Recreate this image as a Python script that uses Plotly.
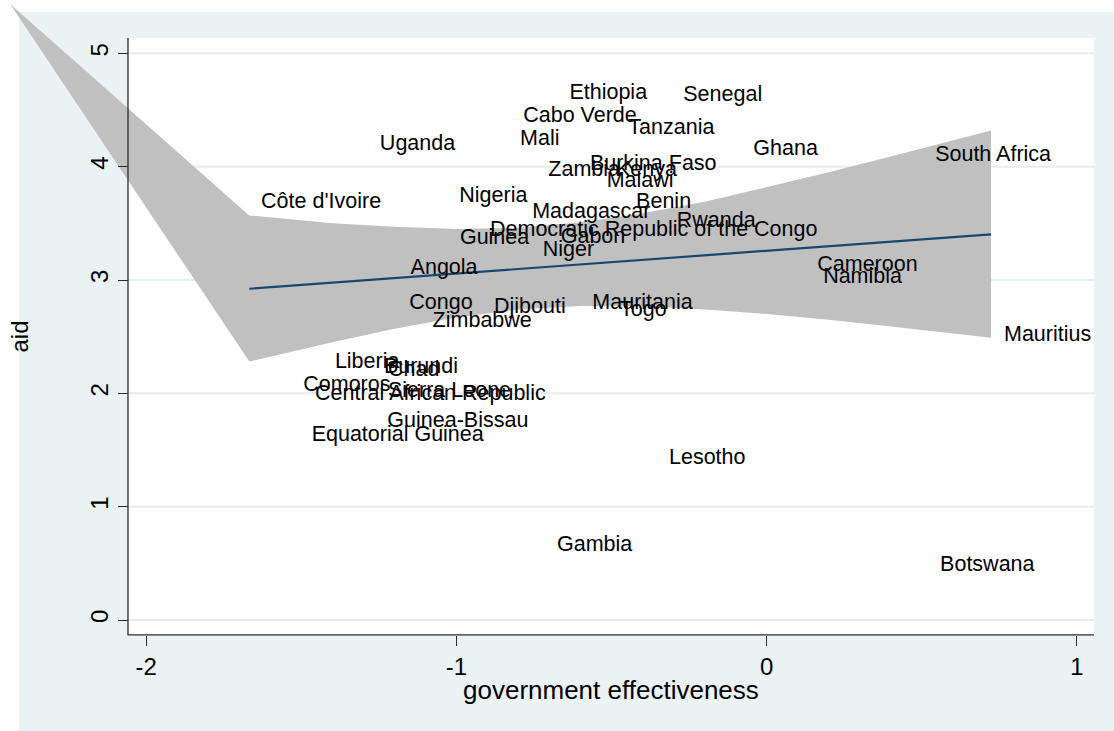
import plotly.graph_objects as go

# ---- data -------------------------------------------------------------
countries = [
    "Ethiopia", "Senegal", "Cabo Verde", "Tanzania", "Mali", "Ghana",
    "Burkina Faso", "Zambia", "Kenya", "Malawi", "Nigeria", "Benin",
    "Madagascar", "Rwanda", "Democratic Republic of the Congo", "Guinea",
    "Gabon", "Niger", "Côte d'Ivoire", "Uganda", "Angola", "Congo",
    "Zimbabwe", "Djibouti", "Mauritania", "Togo", "Cameroon", "Namibia",
    "South Africa", "Mauritius", "Liberia", "Burundi", "Chad", "Comoros",
    "Sierra Leone", "Central African Republic", "Guinea-Bissau",
    "Equatorial Guinea", "Lesotho", "Gambia", "Botswana",
]
gov_effectiveness = [
    -0.636, -0.269, -0.785, -0.446, -0.795, -0.043,
    -0.570, -0.704, -0.486, -0.516, -0.991, -0.421,
    -0.756, -0.290, -0.892, -0.989,
    -0.664, -0.722, -1.630, -1.247, -1.148, -1.152,
    -1.077, -0.879, -0.562, -0.473, 0.163, 0.182,
    0.543, 0.765, -1.392, -1.234, -1.221, -1.494,
    -1.221, -1.456, -1.223,
    -1.467, -0.315, -0.676, 0.559,
]
aid = [
    4.648, 4.626, 4.438, 4.332, 4.235, 4.148,
    4.017, 3.964, 3.962, 3.871, 3.737, 3.681,
    3.596, 3.516, 3.435, 3.362,
    3.372, 3.259, 3.682, 4.191, 3.103, 2.795,
    2.629, 2.753, 2.791, 2.733, 3.126, 3.022,
    4.097, 2.509, 2.274, 2.224, 2.197, 2.071,
    2.012, 1.990, 1.750,
    1.626, 1.421, 0.653, 0.481,
]

# linear fit and its confidence band
fit_x = [-1.668, 0.723]
fit_y = [2.923, 3.403]
ci_x = [-2.439, -1.668, -1.4, -1.2, -1.0, -0.8, -0.6, -0.4, -0.2, 0.0, 0.2, 0.4, 0.6, 0.723]
ci_upper = [5.435, 3.57, 3.50, 3.47, 3.45, 3.46, 3.51, 3.59, 3.69, 3.82, 3.95, 4.09, 4.23, 4.32]
ci_lower = [5.435, 2.28, 2.45, 2.57, 2.67, 2.74, 2.77, 2.77, 2.74, 2.70, 2.65, 2.59, 2.53, 2.49]

x_ticks = [-2, -1, 0, 1]
x_tick_labels = ["-2", "-1", "0", "1"]
y_ticks = [0, 1, 2, 3, 4, 5]
y_tick_labels = ["0", "1", "2", "3", "4", "5"]

# ---- layout constants -------------------------------------------------
W, H = 1114, 731
X_RANGE = [-2.4716, 1.1196]      # axis span across the whole canvas
Y_RANGE = [-0.9794, 5.4706]
FRAME_X = [-2.059, 1.055]        # inner plot region
FRAME_Y = [-0.132, 5.135]

FONT = "Liberation Sans, Arial, Helvetica, sans-serif"
BG_BLUE = "#eaf2f3"
GRID = "#e4edf0"
BAND = "#c0c0c0"
LINE = "#1a476f"
AXIS = "#2b2b2b"


def frac_x(v):
    return (v - X_RANGE[0]) / (X_RANGE[1] - X_RANGE[0])


def frac_y(v):
    return (v - Y_RANGE[0]) / (Y_RANGE[1] - Y_RANGE[0])


fig = go.Figure()

# horizontal grid lines across the plot region
gx, gy = [], []
for t in y_ticks:
    gx += [FRAME_X[0], FRAME_X[1], None]
    gy += [t, t, None]
fig.add_trace(go.Scatter(x=gx, y=gy, mode="lines",
                         line=dict(color=GRID, width=2), hoverinfo="skip"))

# confidence band
fig.add_trace(go.Scatter(
    x=ci_x + ci_x[::-1],
    y=ci_upper + ci_lower[::-1],
    mode="lines", fill="toself", fillcolor=BAND,
    line=dict(width=0, color=BAND), hoverinfo="skip"))

# fitted line
fig.add_trace(go.Scatter(x=fit_x, y=fit_y, mode="lines",
                         line=dict(color=LINE, width=2.2), hoverinfo="skip"))

# country labels
fig.add_trace(go.Scatter(
    x=gov_effectiveness, y=aid, text=countries, mode="text",
    textposition="middle right",
    textfont=dict(family=FONT, size=21.5, color="black"),
    cliponaxis=False, hoverinfo="skip"))

# axis lines (left and bottom)
fig.add_trace(go.Scatter(
    x=[FRAME_X[0], FRAME_X[0], FRAME_X[1]],
    y=[FRAME_Y[1], FRAME_Y[0], FRAME_Y[0]],
    mode="lines", line=dict(color=AXIS, width=1.3), hoverinfo="skip"))

shapes = [
    dict(type="rect", xref="paper", yref="paper",
         x0=19 / W, x1=1, y0=0, y1=1 - 12 / H,
         fillcolor=BG_BLUE, line=dict(width=0), layer="below"),
    dict(type="rect", xref="x", yref="y",
         x0=FRAME_X[0], x1=FRAME_X[1], y0=FRAME_Y[0], y1=FRAME_Y[1],
         fillcolor="white", line=dict(width=0), layer="below"),
]

mid_x = (frac_x(FRAME_X[0]) + frac_x(FRAME_X[1])) / 2
mid_y = (frac_y(FRAME_Y[0]) + frac_y(FRAME_Y[1])) / 2

fig.update_layout(
    width=W, height=H,
    margin=dict(l=0, r=0, t=0, b=0),
    paper_bgcolor="white",
    plot_bgcolor="rgba(0,0,0,0)",
    showlegend=False,
    shapes=shapes,
    xaxis=dict(
        domain=[0, 1], range=X_RANGE, anchor="free",
        position=frac_y(FRAME_Y[0]),
        tickmode="array", tickvals=x_ticks, ticktext=x_tick_labels,
        ticks="outside", ticklen=10, tickwidth=1.3, tickcolor=AXIS,
        tickfont=dict(family=FONT, size=24, color="black"),
        showgrid=False, zeroline=False, showline=False, fixedrange=True,
    ),
    yaxis=dict(
        domain=[0, 1], range=Y_RANGE, anchor="free",
        position=frac_x(FRAME_X[0]),
        tickmode="array", tickvals=y_ticks, ticktext=y_tick_labels,
        ticks="outside", ticklen=10, tickwidth=1.3, tickcolor=AXIS,
        tickangle=-90,
        tickfont=dict(family=FONT, size=24, color="black"),
        showgrid=False, zeroline=False, showline=False, fixedrange=True,
    ),
    annotations=[
        dict(text="government effectiveness", xref="paper", yref="paper",
             x=mid_x, y=1 - 690 / H, xanchor="center", yanchor="middle",
             showarrow=False, font=dict(family=FONT, size=26, color="black")),
        dict(text="aid", xref="paper", yref="paper",
             x=19 / W, y=mid_y, xanchor="center", yanchor="middle",
             textangle=-90, showarrow=False,
             font=dict(family=FONT, size=24, color="black")),
    ],
)

fig.write_html("out.html", config={"displayModeBar": False})
